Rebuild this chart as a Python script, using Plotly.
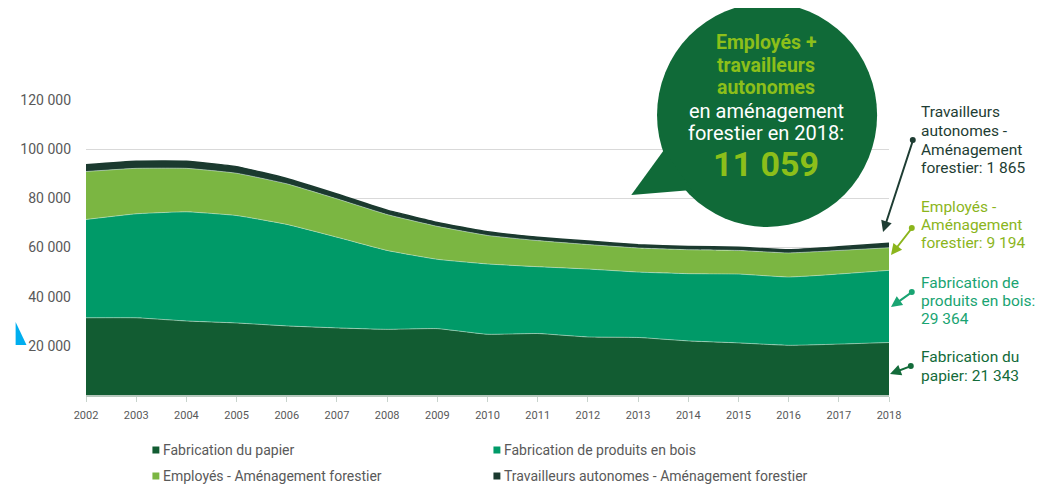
import plotly.graph_objects as go

years = list(range(2002, 2019))
papier = [31400, 31400, 30100, 29300, 28100, 27300, 26700, 27000, 24700, 25000, 23600, 23400, 22000, 21200, 20200, 20700, 21343]
bois = [40000, 42300, 44400, 43700, 41300, 36900, 32100, 28200, 28600, 27200, 27650, 26600, 27350, 28000, 27800, 28500, 29364]
employes = [19500, 18500, 17700, 17200, 16500, 15600, 14600, 13400, 11600, 10600, 9950, 9800, 9750, 9600, 9800, 9600, 9194]
autonomes = [2800, 2900, 2900, 2700, 2200, 2000, 1800, 1600, 1500, 1400, 1400, 1300, 1300, 1300, 1300, 1500, 1865]

names = ["Fabrication du papier", "Fabrication de produits en bois",
         "Employés - Aménagement forestier", "Travailleurs autonomes - Aménagement forestier"]
colors = ["#125C32", "#009A68", "#7BB642", "#1B3A2F"]
yticks = [20000, 40000, 60000, 80000, 100000, 120000]

# page body has an 8px default margin: figure starts at (8, 8) of the window
OFF = 8
W, H = 1045, 479
L, R, T, B = 79 - OFF, 164, 100 - OFF, 92
PW, PH = W - L - R, H - T - B


def px(x):
    return (x - OFF - L) / PW


def py(y):
    return (T + PH - (y - OFF)) / PH


def fmt(v):
    return f"{v:,}".replace(",", " ")


GRAY = "#595959"
FONT = "Roboto"

fig = go.Figure()
seam = "rgba(200,230,210,0.55)"
for i, (nm, vals) in enumerate(zip(names, [papier, bois, employes, autonomes])):
    fig.add_trace(go.Scatter(
        x=years, y=vals, name=nm, stackgroup="one", mode="lines",
        line=dict(width=1 if i < 3 else 1.5, color=seam if i < 3 else colors[i],
                  shape="spline", smoothing=0.4),
        fillcolor=colors[i], showlegend=False, hoverinfo="x+y+name"))

shapes = []
annotations = []

# legend (manual)
leg_pos = [(146, 450), (490, 450), (146, 476), (490, 476)]
for (lx, ly), nm, c in zip(leg_pos, names, colors):
    shapes.append(dict(type="rect", xref="paper", yref="paper",
                       x0=px(lx), x1=px(lx + 7), y0=py(ly + 3.5), y1=py(ly - 3.5),
                       fillcolor=c, line=dict(width=0)))
    annotations.append(dict(text=nm, xref="paper", yref="paper", x=px(lx + 9), y=py(ly),
                            xanchor="left", yanchor="middle", showarrow=False,
                            font=dict(family=FONT, size=14, color=GRAY)))

# speech bubble
BUB = "#106A38"
LG = "#8CBF1A"
shapes.append(dict(type="circle", xref="paper", yref="paper", layer="above",
                   x0=px(655), x1=px(877), y0=py(227), y1=py(3),
                   fillcolor=BUB, line=dict(width=0)))
tail = [(629, 195), (662, 150), (690, 190)]
path = "M " + " L ".join(f"{px(a)},{py(b)}" for a, b in tail) + " Z"
shapes.append(dict(type="path", xref="paper", yref="paper", layer="above", path=path,
                   fillcolor=BUB, line=dict(width=0)))

total_af = employes[-1] + autonomes[-1]
bubble_lines = [("<b>Employés +</b>", 42, LG, 19.5), ("<b>travailleurs</b>", 65, LG, 19.5),
                ("<b>autonomes</b>", 87, LG, 19.5), ("en aménagement", 111, "white", 20),
                ("forestier en 2018:", 133, "white", 20), (f"<b>{fmt(total_af)}</b>", 164, LG, 34)]
for t, yy, c, s in bubble_lines:
    annotations.append(dict(text=t, xref="paper", yref="paper", x=px(765), y=py(yy),
                            xanchor="center", yanchor="middle", showarrow=False,
                            font=dict(family=FONT, size=s, color=c)))

# blue triangle at left
tri = [(OFF, 322), (19, 345), (OFF, 345)]
shapes.append(dict(type="path", xref="paper", yref="paper", layer="above",
                   path="M " + " L ".join(f"{px(a)},{py(b)}" for a, b in tri) + " Z",
                   fillcolor="#00AEEF", line=dict(width=0)))

# right-hand labels with arrows
labels = [
    (["Travailleurs", "autonomes -", "Aménagement", f"forestier: {fmt(autonomes[-1])}"],
     [112, 131, 150, 168], "#1E3D33", (913, 140), (883, 232)),
    (["Employés -", "Aménagement", f"forestier: {fmt(employes[-1])}"],
     [207, 225, 243], "#8BB51C", (912, 228), (891, 255)),
    (["Fabrication de", "produits en bois:", fmt(bois[-1])],
     [283, 301, 319], "#19A472", (912, 292), (891, 307)),
    (["Fabrication du", f"papier: {fmt(papier[-1])}"],
     [357, 376], "#136B3A", (911, 366), (890, 374)),
]
for lines, ys, c, tailp, tip in labels:
    for t, yy in zip(lines, ys):
        annotations.append(dict(text=t, xref="paper", yref="paper", x=px(919), y=py(yy),
                                xanchor="left", yanchor="middle", showarrow=False,
                                font=dict(family=FONT, size=15.5, color=c)))
    annotations.append(dict(text="", xref="paper", yref="paper", x=px(tip[0]), y=py(tip[1]),
                            ax=tailp[0] - tip[0], ay=tailp[1] - tip[1], showarrow=True,
                            arrowhead=2, arrowsize=1.1, arrowwidth=2, arrowcolor=c))
    shapes.append(dict(type="circle", xref="paper", yref="paper", layer="above",
                       x0=px(tailp[0] - 3), x1=px(tailp[0] + 3),
                       y0=py(tailp[1] + 3), y1=py(tailp[1] - 3),
                       fillcolor=c, line=dict(width=0)))

fig.update_layout(
    width=W, height=H, margin=dict(l=L, r=R, t=T, b=B),
    paper_bgcolor="white", plot_bgcolor="white",
    shapes=shapes, annotations=annotations, showlegend=False,
    xaxis=dict(range=[2002, 2018], tickmode="array", tickvals=years,
               ticktext=[str(y) for y in years], showgrid=False, zeroline=False,
               showline=True, linecolor="#B5C7BC", linewidth=1.5,
               ticks="outside", ticklen=5, tickcolor="#C8D4CD", tickwidth=1,
               ticklabelstandoff=4,
               tickfont=dict(family=FONT, size=11, color=GRAY)),
    yaxis=dict(range=[0, 120000], tickmode="array", tickvals=yticks,
               ticktext=[fmt(v) for v in yticks], showgrid=True, gridcolor="#D9D9D9",
               gridwidth=1.2, zeroline=False, showline=False, ticks="",
               ticklabelstandoff=14,
               tickfont=dict(family=FONT, size=14, color=GRAY)),
)

fig.write_html("out.html")
